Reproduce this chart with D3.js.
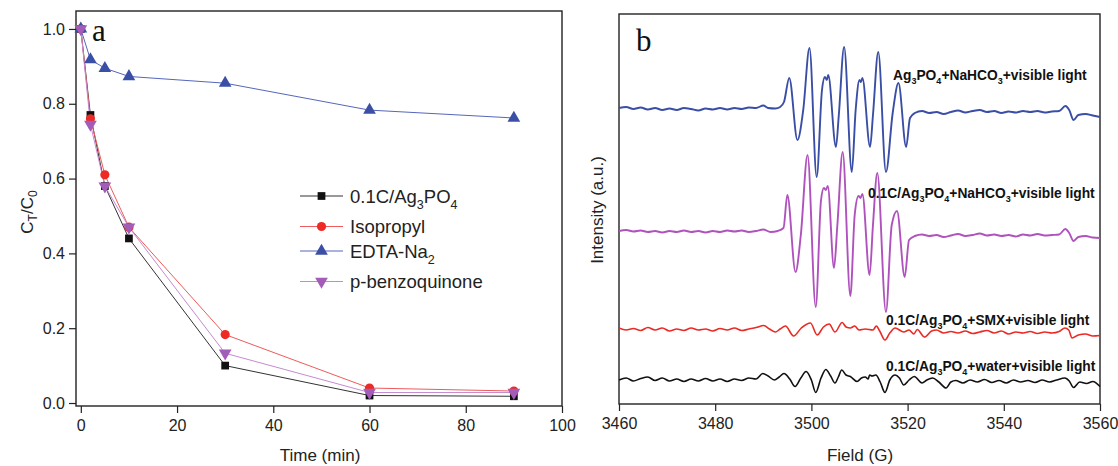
<!DOCTYPE html>
<html>
<head>
<meta charset="utf-8">
<script src="https://cdn.jsdelivr.net/npm/d3@7"></script>
<style>
  html, body { margin: 0; padding: 0; background: #fff; }
  svg { display: block; font-family: "Liberation Sans", Arial, sans-serif; }
  .tick text { font-size: 16px; fill: #222; }
  .lbl { font-size: 13.8px; font-weight: bold; fill: #111; }
</style>
</head>
<body>
<svg id="fig" width="1118" height="466"></svg>
<script>
// ── panel a: degradation under scavengers ──
const times = [0, 2, 5, 10, 30, 60, 90];
const seriesNames = ['0.1C/Ag3PO4', 'Isopropyl', 'EDTA-Na2', 'p-benzoquinone'];
const ctBlank = [1.0, 0.77, 0.58, 0.44, 0.10, 0.02, 0.018];
const ctIsopropyl = [1.0, 0.76, 0.61, 0.47, 0.183, 0.04, 0.032];
const ctEdta = [1.0, 0.918, 0.895, 0.873, 0.855, 0.783, 0.762];
const ctBq = [1.0, 0.745, 0.58, 0.47, 0.133, 0.028, 0.028];
const timeTicks = [0, 20, 40, 60, 80, 100];
const ctTicks = [0, 0.2, 0.4, 0.6, 0.8, 1.0];

// ── panel b: EPR spectra, [field (G), intensity (a.u.)] ──
const fieldTicks = [3460, 3480, 3500, 3520, 3540, 3560];
const spectraNames = [
  'Ag3PO4+NaHCO3+visible light',
  '0.1C/Ag3PO4+NaHCO3+visible light',
  '0.1C/Ag3PO4+SMX+visible light',
  '0.1C/Ag3PO4+water+visible light'
];
const eprAgNaHCO3 = [
  [3460,295],[3461.5,296],[3463,294],[3464.5,295.5],[3466,293.5],[3467.5,295],[3469,293],[3470.5,294.5],
  [3472,293],[3473.5,295],[3475,294],[3476.5,292.5],[3478,294.5],[3479.5,293.5],[3481,295],[3482.5,293.5],
  [3484,295],[3485.5,294],[3487,295.5],[3488.5,295],[3490,297.5],[3491,295],[3492.5,294.5],[3493.5,296],
  [3494.3,301],[3495.4,325],[3497.1,263],[3498.3,293],[3499.6,355],[3501.1,226],[3502.2,313],[3502.8,326],
  [3503.2,323],[3503.5,328],[3505.1,256],[3505.7,288],[3506.8,356],[3508.4,231],[3509.2,293],[3510.0,323],
  [3510.3,321],[3510.6,325],[3512.2,256],[3512.8,288],[3513.9,351],[3515.5,231],[3516.9,290],[3518.1,320],
  [3519.7,256],[3520.5,285],[3521.5,290],[3523,292],[3524.5,290],[3526,291],[3527.5,289],[3529,291],
  [3530.5,292.5],[3532,290.5],[3533.5,292],[3535,293],[3536.5,291],[3538,292],[3539.5,290],[3541,291.5],
  [3542.5,290.5],[3544,292],[3545.5,291],[3547,292],[3548.5,290.5],[3550,291.5],[3551.5,292],[3552.8,297],
  [3553.6,293],[3554.5,283],[3555.5,288],[3557,289],[3558.5,287.5],[3560,286]
];
const eprCNaHCO3 = [
  [3460,172],[3461.5,173],[3463,171.5],[3464.5,172.5],[3466,171],[3467.5,172],[3469,170.5],[3470.5,172],
  [3472,171],[3473.5,172.5],[3475,171],[3476.5,172],[3478,170.5],[3479.5,172],[3481,171],[3482.5,172.5],
  [3484,171.5],[3485.5,172.5],[3487,171],[3488.5,172],[3490,173.5],[3491.5,171],[3493,172],[3494.2,175],
  [3495.0,208],[3496.7,131],[3497.8,168],[3499.2,248],[3500.9,96],[3502.0,203],[3502.6,215],[3503.0,213],
  [3503.4,217],[3504.7,135],[3505.4,178],[3506.5,251],[3508.1,107],[3509.0,188],[3509.8,207],[3510.2,205],
  [3510.6,209],[3512.1,128],[3512.8,178],[3513.7,230],[3515.5,91],[3516.7,178],[3517.8,192],[3519.4,126],
  [3520.3,163],[3521.5,167],[3523,168.5],[3524.5,167],[3526,168],[3527.5,166],[3529,167.5],[3530.5,169],
  [3532,167],[3533.5,168],[3535,169.5],[3536.5,167.5],[3538,168.5],[3539.5,167],[3541,168],[3542.5,166.5],
  [3544,168.5],[3545.5,167.5],[3547,169],[3548.5,167.5],[3550,168],[3551.5,168.5],[3552.8,174],[3553.6,170],
  [3554.5,162],[3555.5,166],[3557,167],[3558.5,165.5],[3560,165]
];
const eprSMX = [
  [3460,75],[3461.5,73],[3463,74.5],[3464.5,72.5],[3466,75.5],[3467.5,73],[3469,75],[3470.5,72],
  [3472,74],[3473.5,72.5],[3475,75],[3476.5,73],[3478,74],[3479.5,72],[3481,74.5],[3482.5,73],
  [3484,75],[3485.5,72.5],[3487,74],[3488.5,75.5],[3490.1,77.5],[3491.3,74],[3492.5,71],[3493.5,74],
  [3494.6,77],[3496.3,67],[3497.9,75],[3499.8,80],[3501.2,68],[3502.5,76],[3503.7,79],[3504.9,71],
  [3506.4,80.5],[3507.2,76],[3508.1,75],[3509.0,77],[3509.9,73],[3511.2,74],[3512.8,73],[3513.5,77],
  [3514.2,72],[3515.3,63],[3516.3,70],[3517.4,75],[3519.2,71],[3520.3,73],[3521.3,69],[3522.0,73.5],
  [3523.5,66],[3525,72],[3526,73],[3527.5,70],[3529,71.5],[3530.5,70],[3532,72],[3533.5,69.5],
  [3535,71],[3536.5,72.5],[3538,70],[3539.5,72],[3541,69],[3542.5,71],[3544,70],[3545.5,71.5],
  [3547,69.5],[3548.5,71],[3550,70],[3551.5,71.5],[3552.7,75],[3553.5,73],[3554.2,65],[3555.5,68],
  [3557,69],[3558.5,67],[3560,67.5]
];
const eprWater = [
  [3460,23],[3461.5,25],[3463,22],[3464.5,24.5],[3466,26],[3467.5,22.5],[3469,25],[3470.5,22],
  [3472,24],[3473.5,21.5],[3475,24],[3476.5,22],[3478,24.5],[3479.5,22],[3481,24],[3482.5,21.5],
  [3484,24],[3485.5,22.5],[3487,25],[3488.5,24],[3489.9,29.5],[3491,27],[3492.3,23],[3493.3,26],
  [3494.3,29.5],[3495.5,24],[3496.6,16.5],[3497.8,25],[3498.9,31.5],[3500.0,23],[3500.9,10.5],[3502.0,25],
  [3503.0,33.5],[3504.0,27],[3504.9,20],[3505.6,26],[3506.3,33],[3507.2,28],[3508.1,26.5],[3509.5,21.5],
  [3510.4,25],[3511.2,26],[3511.8,24],[3512.1,28],[3512.6,27],[3513.4,28],[3514.3,21],[3515.3,10.5],
  [3516.3,23],[3517.4,28],[3518.3,25],[3519.2,18],[3520.3,23],[3521.4,26.5],[3523.0,20],[3524.0,23],
  [3525.2,25],[3526.5,21],[3528,15],[3529,21],[3530,22.5],[3531.5,20],[3533,23],[3534.5,21],
  [3536,23.5],[3537.5,20.5],[3539,22.5],[3540.5,20],[3542,23],[3543.5,21],[3545,22.5],[3546.5,20.5],
  [3548,23],[3549.5,21],[3551,23],[3552.7,25],[3553.6,22],[3554.5,15.5],[3555.8,21],[3557.2,19.5],
  [3558.5,21.5],[3560,16.5]
];

const svg = d3.select('#fig');

// colours and marker shapes per series
const seriesColor = ['#111111', '#ee2a24', '#3b4fa6', '#a35cb8'];
const lineColor = ['#333333', '#f05a5a', '#5566bb', '#c58ad0'];
const markers = [d3.symbolSquare, d3.symbolCircle, d3.symbolTriangle, d3.symbolTriangle];
const markerSize = [60, 66, 70, 70];

// text with subscripts: parts = [[text, isSub], ...]
function subText(sel, parts, subSize, shift) {
  let inSub = false;
  parts.forEach(([t, sub]) => {
    const ts = sel.append('tspan').text(t);
    if (sub && !inSub) ts.attr('dy', shift);
    if (!sub && inSub) ts.attr('dy', -shift);
    if (sub) ts.style('font-size', subSize + 'px');
    inSub = !!sub;
  });
}

// ── Panel a ──
const xA = d3.scaleLinear().domain([-1, 100]).range([76, 562]);
const yA = d3.scaleLinear().domain([-0.008, 1.048]).range([406, 11]);

function frame(x0, x1, y0, y1) {
  svg.append('rect').attr('x', x0).attr('y', y0).attr('width', x1 - x0).attr('height', y1 - y0)
    .attr('fill', 'none').attr('stroke', '#222').attr('stroke-width', 1.4);
}

function bottomAxis(x, yPos, major, minor, fmt) {
  const g = svg.append('g').attr('transform', `translate(0,${yPos})`);
  g.call(d3.axisBottom(x).tickValues(minor).tickSize(4).tickFormat(''));
  g.call(d3.axisBottom(x).tickValues(major).tickSize(7).tickPadding(7).tickFormat(fmt));
  g.selectAll('.domain').remove();
  g.selectAll('line').attr('stroke', '#222').attr('stroke-width', 1.2);
  return g;
}

bottomAxis(xA, 406, timeTicks, d3.range(10, 100, 20), d3.format('d'));
const ayg = svg.append('g').attr('transform', 'translate(76,0)');
ayg.call(d3.axisLeft(yA).tickValues([0.1, 0.3, 0.5, 0.7, 0.9]).tickSize(4).tickFormat(''));
ayg.call(d3.axisLeft(yA).tickValues(ctTicks).tickSize(7).tickPadding(4).tickFormat(d3.format('.1f')));
ayg.selectAll('.domain').remove();
ayg.selectAll('line').attr('stroke', '#222').attr('stroke-width', 1.2);
frame(76, 562, 11, 406);

const ctSeries = [ctBlank, ctIsopropyl, ctEdta, ctBq];
const lineA = d3.line().x((d, i) => xA(times[i])).y(d => yA(d));

ctSeries.forEach((vals, s) => {
  svg.append('path').datum(vals).attr('d', lineA)
    .attr('fill', 'none').attr('stroke', lineColor[s]).attr('stroke-width', 1);
});
ctSeries.forEach((vals, s) => {
  svg.selectAll(null).data(vals).join('path')
    .attr('d', d3.symbol(markers[s], markerSize[s]))
    .attr('transform', (d, i) => `translate(${xA(times[i])},${yA(d)})${s === 3 ? ' rotate(180)' : ''}`)
    .attr('fill', seriesColor[s]);
});

// y label C_T/C_0
const ylab = svg.append('text').attr('transform', 'translate(33,212) rotate(-90)')
  .attr('text-anchor', 'middle').style('font-size', '17px').attr('fill', '#222');
subText(ylab, [['C'], ['T', true], ['/C'], ['0', true]], 12, 4);

svg.append('text').attr('x', 320).attr('y', 461).attr('text-anchor', 'middle')
  .style('font-size', '17px').attr('fill', '#222').text('Time (min)');

svg.append('text').attr('x', 92).attr('y', 41)
  .style('font-family', '"Liberation Serif", "DejaVu Serif", serif').style('font-size', '31px')
  .attr('fill', '#111').text('a');

// legend
const legendRows = [196, 226.5, 251, 281.5];
const legendParts = [
  [['0.1C/Ag'], ['3', true], ['PO'], ['4', true]],
  [['Isopropyl']],
  [['EDTA-Na'], ['2', true]],
  [['p-benzoquinone']]
];
seriesNames.forEach((name, s) => {
  const y = legendRows[s];
  svg.append('line').attr('x1', 300).attr('x2', 343).attr('y1', y).attr('y2', y)
    .attr('stroke', lineColor[s]).attr('stroke-width', 1);
  svg.append('path').attr('d', d3.symbol(markers[s], markerSize[s]))
    .attr('transform', `translate(321.5,${y})${s === 3 ? ' rotate(180)' : ''}`)
    .attr('fill', seriesColor[s]);
  const t = svg.append('text').attr('x', 350).attr('y', y + 6.5)
    .style('font-size', '18.5px').attr('fill', '#222');
  subText(t, legendParts[s], 12.5, 6);
});

// ── Panel b ──
const xB = d3.scaleLinear().domain([3460, 3560]).range([619, 1100]);
const yB = d3.scaleLinear().domain([0, 389]).range([403, 14]);

bottomAxis(xB, 404, fieldTicks, d3.range(3470, 3560, 20), d3.format('d'));
frame(619, 1100, 14, 404);

const spectra = [eprAgNaHCO3, eprCNaHCO3, eprSMX, eprWater];
const specColor = ['#3a4ea6', '#b052bd', '#ea2b25', '#111111'];
const specWidth = [1.9, 1.9, 1.6, 1.6];
const lineB = d3.line().x(d => xB(d[0])).y(d => yB(d[1])).curve(d3.curveMonotoneX);
spectra.forEach((pts, s) => {
  svg.append('path').datum(pts).attr('d', lineB)
    .attr('fill', 'none').attr('stroke', specColor[s]).attr('stroke-width', specWidth[s])
    .attr('stroke-linejoin', 'round');
});

// spectrum labels
const labelPos = [[893, 80], [868, 198], [886, 325], [886, 371]];
const labelParts = [
  [['Ag'], ['3', true], ['PO'], ['4', true], ['+NaHCO'], ['3', true], ['+visible light']],
  [['0.1C/Ag'], ['3', true], ['PO'], ['4', true], ['+NaHCO'], ['3', true], ['+visible light']],
  [['0.1C/Ag'], ['3', true], ['PO'], ['4', true], ['+SMX+visible light']],
  [['0.1C/Ag'], ['3', true], ['PO'], ['4', true], ['+water+visible light']]
];
spectraNames.forEach((name, s) => {
  const t = svg.append('text').attr('class', 'lbl').attr('x', labelPos[s][0]).attr('y', labelPos[s][1]);
  subText(t, labelParts[s], 9, 4);
});

svg.append('text').attr('transform', 'translate(603,210) rotate(-90)').attr('text-anchor', 'middle')
  .style('font-size', '17px').attr('fill', '#222').text('Intensity (a.u.)');
svg.append('text').attr('x', 860).attr('y', 461).attr('text-anchor', 'middle')
  .style('font-size', '17px').attr('fill', '#222').text('Field (G)');
svg.append('text').attr('x', 636).attr('y', 51)
  .style('font-family', '"Liberation Serif", "DejaVu Serif", serif').style('font-size', '31px')
  .attr('fill', '#111').text('b');
</script>
</body>
</html>
